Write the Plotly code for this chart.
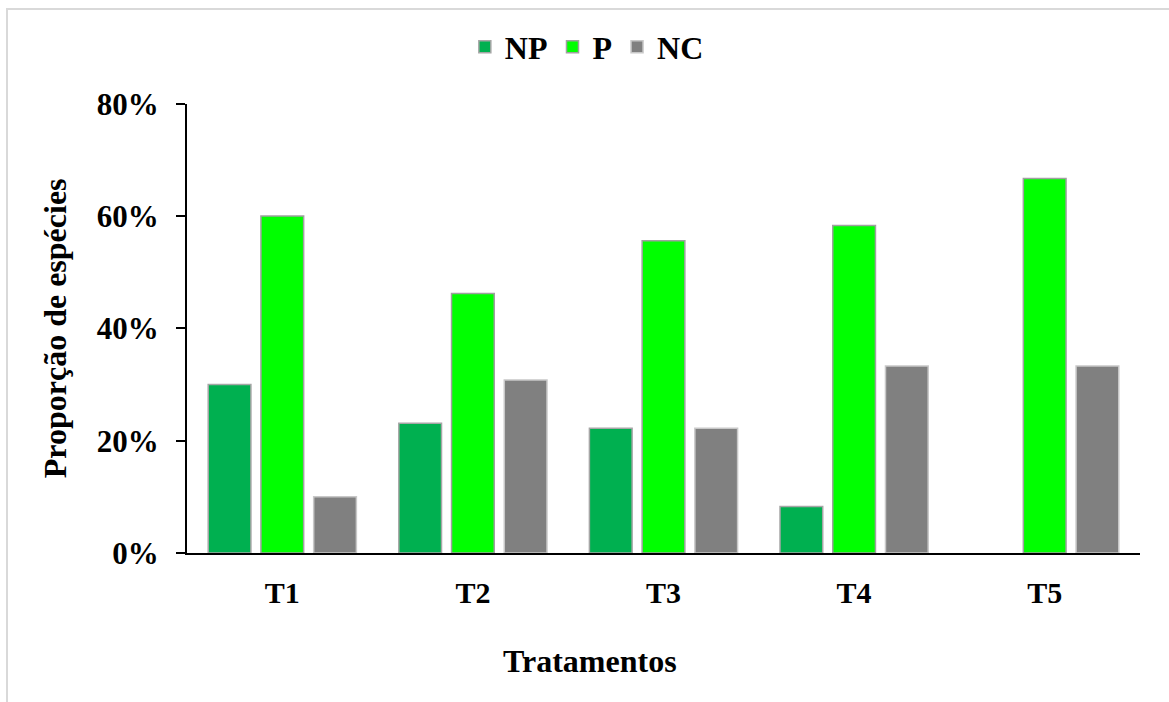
import plotly.graph_objects as go

categories = ["T1", "T2", "T3", "T4", "T5"]
np_vals = [0.300, 0.231, 0.222, 0.083, 0.0]
p_vals = [0.600, 0.462, 0.556, 0.583, 0.667]
nc_vals = [0.100, 0.308, 0.222, 0.333, 0.333]
x_title = "Tratamentos"
y_title = "Proporção de espécies"

series = [
    ("NP", np_vals, "#00B050", "#A6A6A6"),
    ("P", p_vals, "#00FF00", "#A0A0A0"),
    ("NC", nc_vals, "#808080", "#C8C8C8"),
]

FONT = "Liberation Serif"

fig = go.Figure()
for name, vals, color, line in series:
    fig.add_trace(go.Bar(
        name=name, x=categories, y=vals,
        marker=dict(color=color,
                    line=dict(color=line, width=[0 if v == 0 else 1.5 for v in vals])),
    ))

fig.update_layout(
    width=1169, height=702,
    margin=dict(l=187, r=29, t=102, b=149),
    paper_bgcolor="white", plot_bgcolor="white",
    barmode="group", bargap=0.17, bargroupgap=0.19,
    font=dict(family=FONT, size=31, color="black", weight="bold"),
    showlegend=True,
    legend=dict(
        orientation="h", xref="container", yref="container",
        x=0.502, xanchor="center", y=0.933, yanchor="middle",
        font=dict(family=FONT, size=32, color="black", weight="bold"),
        itemwidth=30, tracegroupgap=0,
    ),
    xaxis=dict(
        showline=True, linecolor="black", linewidth=2,
        ticks="", showgrid=False, zeroline=False,
        tickfont=dict(family=FONT, size=30, weight="bold"),
        ticklabelstandoff=12,
    ),
    yaxis=dict(
        range=[0, 0.8], dtick=0.2, tickformat=".0%",
        showline=True, linecolor="black", linewidth=2,
        ticks="outside", ticklen=9, tickwidth=2, tickcolor="black",
        showgrid=False, zeroline=False,
        tickfont=dict(family=FONT, size=31, weight="bold"),
        ticklabelstandoff=11,
        title=dict(text=y_title, standoff=21,
                   font=dict(family=FONT, size=32, weight="bold")),
    ),
    annotations=[dict(
        text=x_title, xref="paper", yref="paper",
        x=(590 - 187) / 953, y=-(661 - 553) / 451,
        xanchor="center", yanchor="middle", showarrow=False,
        font=dict(family=FONT, size=32, color="black", weight="bold"),
    )],
    shapes=[dict(
        type="rect", xref="paper", yref="paper",
        x0=(7 - 187) / 953, x1=(1175 - 187) / 953,
        y0=-(710 - 553) / 451, y1=(553 - 7) / 451,
        line=dict(color="#D9D9D9", width=2), fillcolor="rgba(0,0,0,0)",
        layer="below",
    )],
)

fig.write_html("out.html")
